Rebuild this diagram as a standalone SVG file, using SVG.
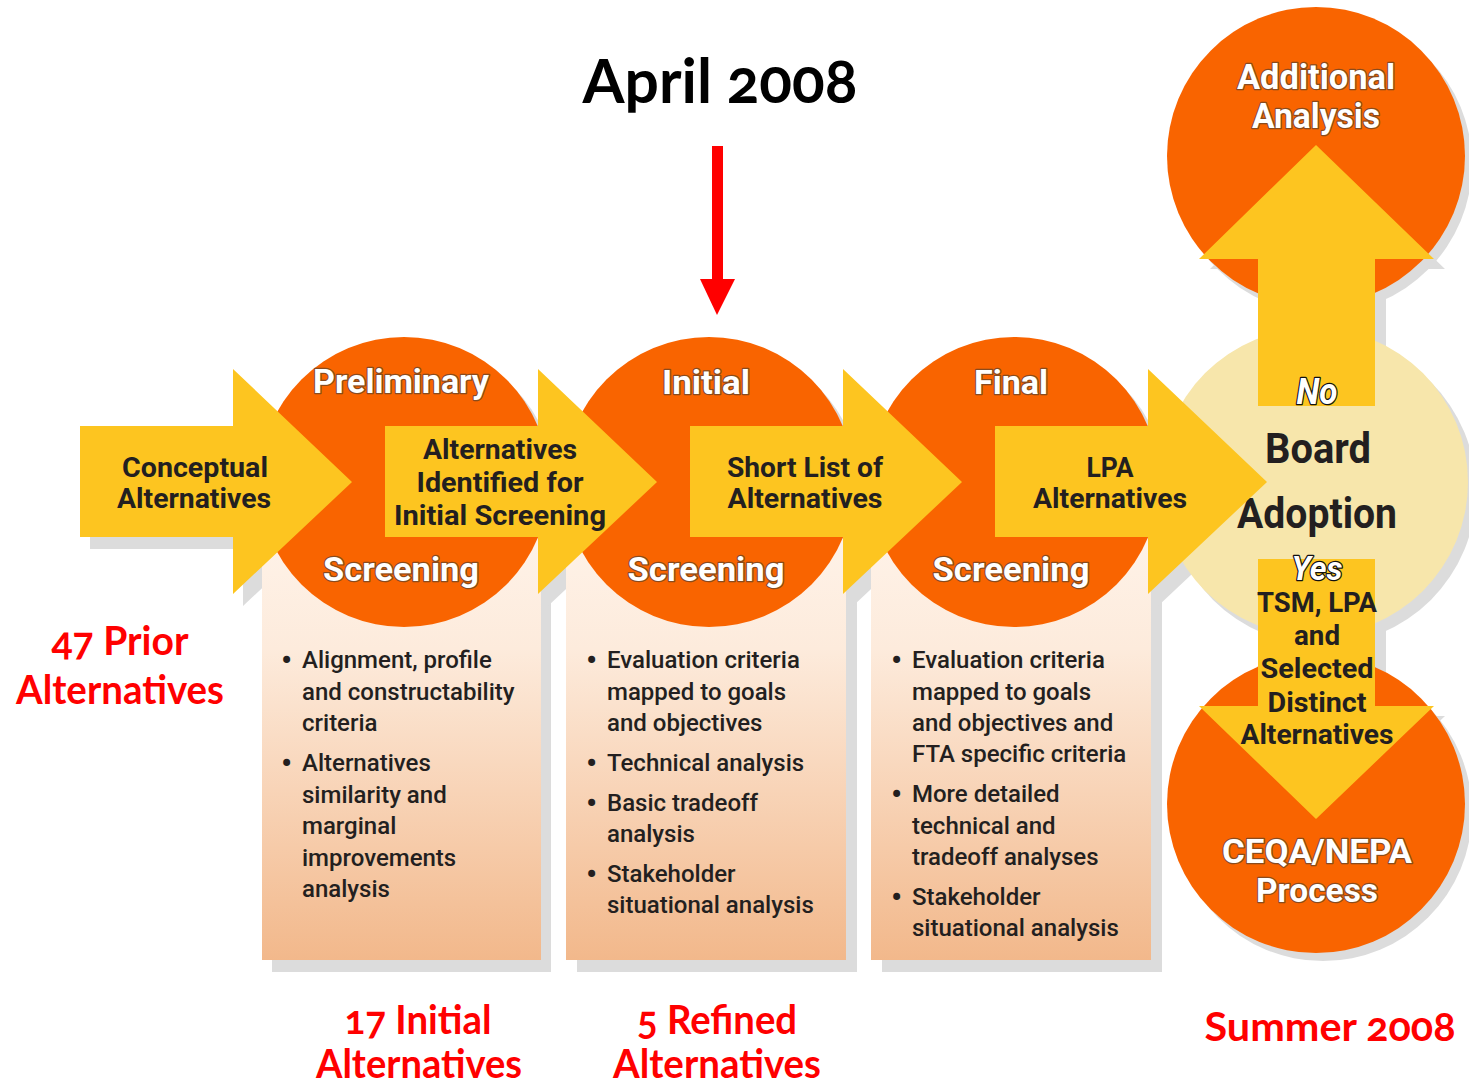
<svg xmlns="http://www.w3.org/2000/svg" width="1469" height="1088" viewBox="0 0 1469 1088">
<defs>
<linearGradient id="pg" x1="0" y1="0" x2="0" y2="1">
<stop offset="0" stop-color="#FFF6EE"/>
<stop offset="0.35" stop-color="#FDEBDC"/>
<stop offset="1" stop-color="#F2B88B"/>
</linearGradient>
<path id="arr" d="M80,426 H233 V369 L352,482 L233,594 V537 H80 Z"/>
<path id="up" d="M1258,406 V259 H1199 L1316,145 L1434,259 H1375 V406 Z"/>
<path id="down" d="M1258,559 V706 H1199 L1316,819 L1434,706 H1375 V559 Z"/>
<style>
.sh{fill:#DCDCDC}
.or{fill:#F96400}
.ye{fill:#FDC520}
.pale{fill:#F7E6AB}
.panel{fill:url(#pg)}
.t{font-family:Roboto,"Liberation Sans",sans-serif;font-weight:700}
.wt{fill:#FFFFFF;stroke:#8A4B1E;stroke-width:2.5px;paint-order:stroke;stroke-linejoin:round}
.dk{fill:#231F20}
.yn{fill:#FFFFFF;stroke:#111111;stroke-width:2.5px;paint-order:stroke;stroke-linejoin:round;font-style:italic}
.b{font-family:Roboto,"Liberation Sans",sans-serif;font-weight:500;font-size:24px;fill:#231F20}
.bu{font-size:32px}
.red{font-family:Lato,"Liberation Sans",sans-serif;font-weight:700;fill:#FF0000;font-size:40px;font-variant-numeric:oldstyle-nums}
</style>
</defs>
<rect width="1469" height="1088" fill="#FFFFFF"/>

<g id="shadows">
<rect class="sh" x="272" y="493" width="279" height="479"/>
<rect class="sh" x="577" y="493" width="280" height="479"/>
<rect class="sh" x="882" y="493" width="280" height="479"/>
<circle class="sh" cx="411" cy="490" r="145"/>
<circle class="sh" cx="716" cy="490" r="145"/>
<circle class="sh" cx="1021" cy="490" r="145"/>
<circle class="sh" cx="1323" cy="164" r="149"/>
<circle class="sh" cx="1322" cy="491" r="154"/>
<circle class="sh" cx="1323" cy="812" r="149"/>
<use href="#arr" class="sh" x="10" y="12"/>
<use href="#arr" class="sh" x="315" y="12"/>
<use href="#arr" class="sh" x="620" y="12"/>
<use href="#arr" class="sh" x="925" y="12"/>
<use href="#up" class="sh" x="11" y="10"/>
<use href="#down" class="sh" x="11" y="10"/>
</g>

<g id="node-preliminary">
<rect class="panel" x="262" y="481" width="279" height="479"/>
<circle class="or" cx="404" cy="482" r="145"/>
<text class="t wt" font-size="33" x="401" y="393" text-anchor="middle" textLength="176" lengthAdjust="spacingAndGlyphs">Preliminary</text>
<text class="t wt" font-size="33" x="401" y="581" text-anchor="middle" textLength="156" lengthAdjust="spacingAndGlyphs">Screening</text>
<text class="b"><tspan class="bu" x="281" y="671">•</tspan><tspan x="302" y="668">Alignment, profile</tspan><tspan x="302" y="700">and constructability</tspan><tspan x="302" y="731">criteria</tspan><tspan class="bu" x="281" y="774">•</tspan><tspan x="302" y="771">Alternatives</tspan><tspan x="302" y="803">similarity and</tspan><tspan x="302" y="834">marginal</tspan><tspan x="302" y="866">improvements</tspan><tspan x="302" y="897">analysis</tspan></text>
</g>

<g id="node-initial">
<rect class="panel" x="566" y="481" width="280" height="479"/>
<circle class="or" cx="709" cy="482" r="145"/>
<text class="t wt" font-size="33" x="706" y="394" text-anchor="middle" textLength="88" lengthAdjust="spacingAndGlyphs">Initial</text>
<text class="t wt" font-size="33" x="706" y="581" text-anchor="middle" textLength="157" lengthAdjust="spacingAndGlyphs">Screening</text>
<text class="b"><tspan class="bu" x="586" y="671">•</tspan><tspan x="607" y="668">Evaluation criteria</tspan><tspan x="607" y="700">mapped to goals</tspan><tspan x="607" y="731">and objectives</tspan><tspan class="bu" x="586" y="774">•</tspan><tspan x="607" y="771">Technical analysis</tspan><tspan class="bu" x="586" y="814">•</tspan><tspan x="607" y="811">Basic tradeoff</tspan><tspan x="607" y="842">analysis</tspan><tspan class="bu" x="586" y="885">•</tspan><tspan x="607" y="882">Stakeholder</tspan><tspan x="607" y="913">situational analysis</tspan></text>
</g>

<g id="node-final">
<rect class="panel" x="871" y="481" width="280" height="479"/>
<circle class="or" cx="1014" cy="482" r="145"/>
<text class="t wt" font-size="33" x="1011" y="394" text-anchor="middle" textLength="74" lengthAdjust="spacingAndGlyphs">Final</text>
<text class="t wt" font-size="33" x="1011" y="581" text-anchor="middle" textLength="157" lengthAdjust="spacingAndGlyphs">Screening</text>
<text class="b"><tspan class="bu" x="891" y="671">•</tspan><tspan x="912" y="668">Evaluation criteria</tspan><tspan x="912" y="700">mapped to goals</tspan><tspan x="912" y="731">and objectives and</tspan><tspan x="912" y="762">FTA specific criteria</tspan><tspan class="bu" x="891" y="805">•</tspan><tspan x="912" y="802">More detailed</tspan><tspan x="912" y="834">technical and</tspan><tspan x="912" y="865">tradeoff analyses</tspan><tspan class="bu" x="891" y="908">•</tspan><tspan x="912" y="905">Stakeholder</tspan><tspan x="912" y="936">situational analysis</tspan></text>
</g>

<g id="node-board">
<circle class="pale" cx="1314" cy="482" r="154"/>
<text class="t dk" font-size="42" x="1318" y="463" text-anchor="middle" textLength="106" lengthAdjust="spacingAndGlyphs">Board</text>
<text class="t dk" font-size="42" x="1317" y="528" text-anchor="middle" textLength="160" lengthAdjust="spacingAndGlyphs">Adoption</text>
</g>

<g id="node-additional">
<circle class="or" cx="1316" cy="156" r="149"/>
<text class="t wt" font-size="35" x="1316" y="89" text-anchor="middle" textLength="158" lengthAdjust="spacingAndGlyphs">Additional</text>
<text class="t wt" font-size="35" x="1316" y="128" text-anchor="middle" textLength="128" lengthAdjust="spacingAndGlyphs">Analysis</text>
</g>

<g id="node-ceqa">
<circle class="or" cx="1316" cy="804" r="149"/>
<text class="t wt" font-size="34" x="1317" y="863" text-anchor="middle" textLength="190" lengthAdjust="spacingAndGlyphs">CEQA/NEPA</text>
<text class="t wt" font-size="34" x="1317" y="902" text-anchor="middle" textLength="122" lengthAdjust="spacingAndGlyphs">Process</text>
</g>

<g id="connectors">
<g id="arrow-conceptual">
<use href="#arr" class="ye"/>
<text class="t dk" font-size="28" x="195" y="477" text-anchor="middle" textLength="146" lengthAdjust="spacingAndGlyphs">Conceptual</text>
<text class="t dk" font-size="28" x="194" y="508" text-anchor="middle" textLength="154" lengthAdjust="spacingAndGlyphs">Alternatives</text>
</g>
<g id="arrow-identified">
<use href="#arr" class="ye" x="305"/>
<text class="t dk" font-size="28" x="500" y="459" text-anchor="middle" textLength="154" lengthAdjust="spacingAndGlyphs">Alternatives</text>
<text class="t dk" font-size="28" x="500" y="492" text-anchor="middle" textLength="167" lengthAdjust="spacingAndGlyphs">Identified for</text>
<text class="t dk" font-size="28" x="500" y="525" text-anchor="middle" textLength="212" lengthAdjust="spacingAndGlyphs">Initial Screening</text>
</g>
<g id="arrow-shortlist">
<use href="#arr" class="ye" x="610"/>
<text class="t dk" font-size="28" x="805" y="477" text-anchor="middle" textLength="156" lengthAdjust="spacingAndGlyphs">Short List of</text>
<text class="t dk" font-size="28" x="805" y="508" text-anchor="middle" textLength="155" lengthAdjust="spacingAndGlyphs">Alternatives</text>
</g>
<g id="arrow-lpa">
<use href="#arr" class="ye" x="915"/>
<text class="t dk" font-size="28" x="1110" y="477" text-anchor="middle" textLength="47" lengthAdjust="spacingAndGlyphs">LPA</text>
<text class="t dk" font-size="28" x="1110" y="508" text-anchor="middle" textLength="154" lengthAdjust="spacingAndGlyphs">Alternatives</text>
</g>
<g id="arrow-no">
<use href="#up" class="ye"/>
<text class="t yn" font-size="36" x="1317" y="404" text-anchor="middle" textLength="41" lengthAdjust="spacingAndGlyphs">No</text>
</g>
<g id="arrow-yes">
<use href="#down" class="ye"/>
<text class="t yn" font-size="34" x="1317" y="580" text-anchor="middle" textLength="51" lengthAdjust="spacingAndGlyphs">Yes</text>
<text class="t dk" font-size="28" x="1317" y="612" text-anchor="middle" textLength="120" lengthAdjust="spacingAndGlyphs">TSM, LPA</text>
<text class="t dk" font-size="28" x="1317" y="645" text-anchor="middle" textLength="46" lengthAdjust="spacingAndGlyphs">and</text>
<text class="t dk" font-size="28" x="1317" y="678" text-anchor="middle" textLength="113" lengthAdjust="spacingAndGlyphs">Selected</text>
<text class="t dk" font-size="28" x="1317" y="712" text-anchor="middle" textLength="99" lengthAdjust="spacingAndGlyphs">Distinct</text>
<text class="t dk" font-size="28" x="1317" y="744" text-anchor="middle" textLength="153" lengthAdjust="spacingAndGlyphs">Alternatives</text>
</g>
<g id="arrow-april">
<rect x="712" y="146" width="11" height="134" fill="#FF0000"/>
<polygon points="700,279 735,279 717,315" fill="#FF0000"/>
</g>
</g>

<g id="labels">
<text font-family="Lato,'Liberation Sans',sans-serif" font-weight="700" font-size="62" fill="#000000" x="720" y="103" text-anchor="middle" textLength="275" lengthAdjust="spacingAndGlyphs" style="font-variant-numeric:oldstyle-nums">April 2008</text>
<text class="red" x="120" y="655" text-anchor="middle" textLength="137" lengthAdjust="spacingAndGlyphs">47 Prior</text>
<text class="red" x="120" y="704" text-anchor="middle" textLength="208" lengthAdjust="spacingAndGlyphs">Alternatives</text>
<text class="red" x="418" y="1034" text-anchor="middle" textLength="147" lengthAdjust="spacingAndGlyphs">17 Initial</text>
<text class="red" x="419" y="1078" text-anchor="middle" textLength="206" lengthAdjust="spacingAndGlyphs">Alternatives</text>
<text class="red" x="717" y="1034" text-anchor="middle" textLength="160" lengthAdjust="spacingAndGlyphs">5 Refined</text>
<text class="red" x="717" y="1078" text-anchor="middle" textLength="208" lengthAdjust="spacingAndGlyphs">Alternatives</text>
<text class="red" x="1330" y="1041" text-anchor="middle" textLength="251" lengthAdjust="spacingAndGlyphs">Summer 2008</text>
</g>
</svg>
